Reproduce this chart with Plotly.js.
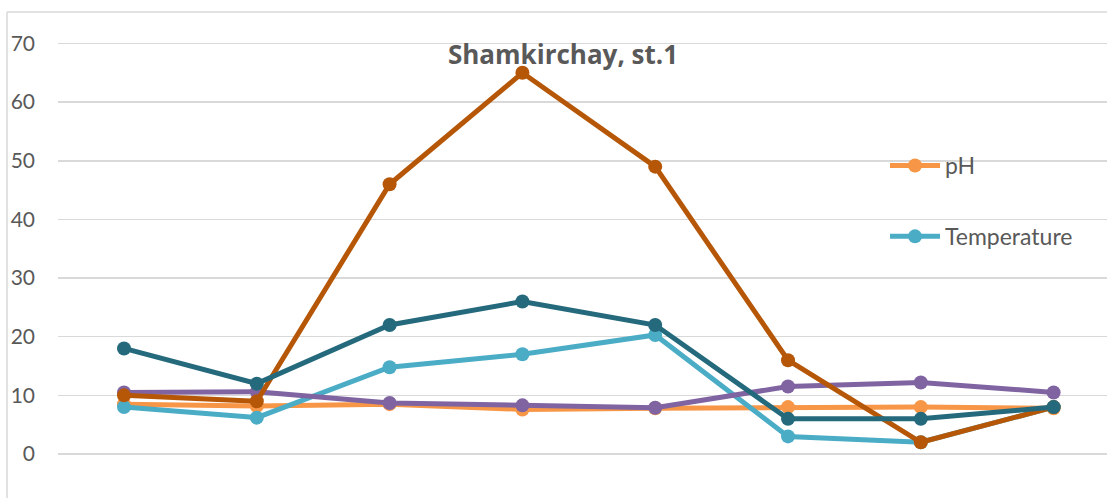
<!DOCTYPE html>
<html>
<head>
<meta charset="utf-8">
<script src="https://cdn.plot.ly/plotly-3.0.1.min.js"></script>
<style>
html,body{margin:0;padding:0;background:#fff;}
#chart{width:1107px;height:498px;}
</style>
</head>
<body>
<div id="chart"></div>
<script>
const categories = [1, 2, 3, 4, 5, 6, 7, 8];
const phValues = [8.5, 8.2, 8.5, 7.6, 7.8, 8.0, 8.0, 7.8];
const temperatureValues = [8, 6.2, 14.8, 17, 20.3, 3, 2, 8];
const series3Values = [10.5, 10.6, 8.7, 8.3, 7.9, 11.5, 12.2, 10.5];
const series4Values = [10, 9, 46, 65, 49, 16, 2, 8];
const series5Values = [18, 12, 22, 26, 22, 6, 6, 8];
const yTicks = [0, 10, 20, 30, 40, 50, 60, 70];

const xIdx = categories.map((c, i) => i);

function tr(name, y, color, show, group) {
  return {
    type: 'scatter', mode: 'lines+markers', name: name,
    x: xIdx, y: y,
    line: {color: color, width: 5},
    marker: {color: color, size: 14},
    showlegend: show, legendgroup: group, cliponaxis: false
  };
}

const data = [
  tr('pH', phValues, '#F79646', true, 'a'),
  tr('Temperature', temperatureValues, '#4BACC6', true, 'b'),
  tr('Series 3', series3Values, '#8064A2', false, 'c'),
  tr('Series 4', series4Values, '#B65708', false, 'd'),
  tr('Series 5', series5Values, '#256A7C', false, 'e')
];

const layout = {
  width: 1107, height: 498,
  margin: {l: 58, r: 0, t: 12, b: 0, pad: 0},
  paper_bgcolor: '#ffffff', plot_bgcolor: '#ffffff',
  font: {family: 'Lato, "Noto Sans", sans-serif', color: '#595959'},
  title: {
    text: '<b>Shamkirchay, st.1</b>',
    font: {size: 26, color: '#595959', family: '"Open Sans", Lato, sans-serif'},
    x: 563 / 1107, xanchor: 'center', xref: 'container',
    y: 1 - 55 / 498, yanchor: 'middle', yref: 'container'
  },
  xaxis: {
    range: [-0.497, 7.402], showgrid: false, zeroline: false,
    showticklabels: false, showline: false, ticks: ''
  },
  yaxis: {
    range: [-7.5, 75.37], tickvals: yTicks, ticktext: yTicks.map(String),
    showgrid: true, gridcolor: '#d9d9d9', gridwidth: 1.5,
    zeroline: false, showline: false, ticks: '',
    tickfont: {size: 21, color: '#595959'}, ticklabelstandoff: 22
  },
  showlegend: true,
  legend: {
    x: (885 - 58) / 1049, xanchor: 'left',
    y: 1 - (168 - 12 - 24) / 486, yanchor: 'top',
    bgcolor: 'rgba(0,0,0,0)', tracegroupgap: 38,
    font: {size: 23, color: '#595959'}, itemwidth: 50
  },
  shapes: [
    {type: 'line', xref: 'paper', yref: 'paper', x0: (7 - 58) / 1049, x1: 1.05, y0: 1, y1: 1,
     line: {color: '#d9d9d9', width: 1.5}},
    {type: 'line', xref: 'paper', yref: 'paper', x0: (7 - 58) / 1049, x1: (7 - 58) / 1049, y0: 1, y1: -0.1,
     line: {color: '#d9d9d9', width: 1.5}}
  ]
};

Plotly.newPlot('chart', data, layout, {displayModeBar: false, staticPlot: true});
</script>
</body>
</html>
